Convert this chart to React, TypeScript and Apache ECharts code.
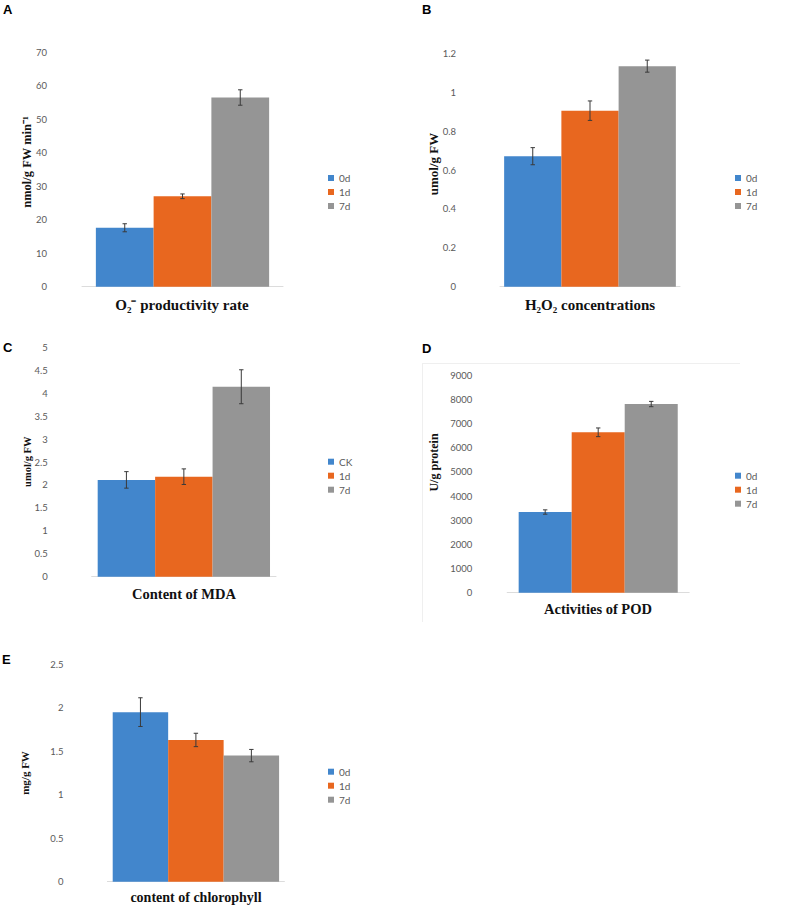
import React, { useEffect, useRef } from "react";
import * as echarts from "echarts";

// ---- data ----
const seriesNames = ["0d", "1d", "7d"];
const seriesNamesMDA = ["CK", "1d", "7d"];
const category = ["treatment"];

const o2Values = [17.6, 27.0, 56.5];
const o2Err = [1.2, 0.7, 2.3];
const h2o2Values = [0.671, 0.905, 1.134];
const h2o2Err = [0.044, 0.05, 0.031];
const mdaValues = [2.11, 2.18, 4.14];
const mdaErr = [0.18, 0.17, 0.37];
const podValues = [3340, 6640, 7810];
const podErr = [90, 180, 110];
const chlValues = [1.95, 1.63, 1.45];
const chlErr = [0.165, 0.077, 0.071];

const panelLetters = ["A", "B", "C", "D", "E"];
const yTitles = ["nmol/g FW min\u207B\u00B9", "umol/g FW", "umol/g FW", "U/g protein", "mg/g FW"];
const xTitles = ["O\u2082\u207B productivity rate", "H\u2082O\u2082 concentrations", "Content of MDA", "Activities of POD", "content of chlorophyll"];
const yMax = [70, 1.2, 5, 9000, 2.5];
const yStep = [10, 0.2, 0.5, 1000, 0.5];

const colors = ["#4286cc", "#e8671f", "#959595"];

// ---- layout ----
const panels = [
  { values: o2Values, err: o2Err, names: seriesNames, grid: { left: 82, top: 52.3, width: 201, height: 234.4 }, gap: 0.138, labelMargin: 35,
    legend: { left: 328, top: 172 }, letter: [3, 9.5], yTitle: [27, 162, 12.5], xTitle: [182, 305, 15] },
  { values: h2o2Values, err: h2o2Err, names: seriesNames, grid: { left: 500, top: 53.3, width: 180, height: 233.4 }, gap: 0.046, labelMargin: 44,
    legend: { left: 735, top: 172 }, letter: [422, 9.5], yTitle: [433.5, 164, 13], xTitle: [590, 305, 15] },
  { values: mdaValues, err: mdaErr, names: seriesNamesMDA, grid: { left: 91.7, top: 347.3, width: 184.3, height: 229.4 }, gap: 0.065, labelMargin: 44,
    legend: { left: 328, top: 455.7 }, letter: [3, 347.5], yTitle: [27, 461.7, 10.5], xTitle: [184, 594, 14.5] },
  { values: podValues, err: podErr, names: seriesNames, grid: { left: 507.2, top: 375.3, width: 182, height: 217.4 }, gap: 0.126, labelMargin: 35,
    legend: { left: 735, top: 469.7 }, letter: [422, 348], yTitle: [433.5, 462.5, 12], xTitle: [598, 609, 14.5] },
  { values: chlValues, err: chlErr, names: seriesNames, grid: { left: 107.4, top: 664.3, width: 177, height: 217.4 }, gap: 0.06, labelMargin: 44,
    legend: { left: 328, top: 765.7 }, letter: [2, 659], yTitle: [25, 773, 11], xTitle: [196, 897.5, 14] },
];

export default function App() {
  const ref = useRef<HTMLDivElement>(null);
  useEffect(() => {
    document.body.style.margin = "0";
    if (!ref.current) return;
    const chart = echarts.init(ref.current, undefined, { renderer: "svg" });

    const grids: any[] = [];
    const xAxes: any[] = [];
    const yAxes: any[] = [];
    const legends: any[] = [];
    const series: any[] = [];
    const graphics: any[] = [];

    panels.forEach((p, i) => {
      grids.push({ ...p.grid, containLabel: false });
      xAxes.push({
        type: "category", gridIndex: i, data: category,
        axisLine: { show: true, lineStyle: { color: "#dcdcdc", width: 1 } },
        axisTick: { show: false }, axisLabel: { show: false }, splitLine: { show: false },
      });
      yAxes.push({
        type: "value", gridIndex: i, min: 0, max: yMax[i], interval: yStep[i],
        axisLine: { show: false }, axisTick: { show: false }, splitLine: { show: false },
        axisLabel: {
          color: "#5a5a5a", fontSize: 9.5, fontFamily: "Lato", margin: p.labelMargin,
          formatter: (v: number) => String(parseFloat(v.toFixed(4))),
        },
      });
      legends.push({
        orient: "vertical", left: p.legend.left, top: p.legend.top, padding: 0,
        itemWidth: 6, itemHeight: 6, itemGap: 2, icon: "rect",
        data: p.names,
        textStyle: { color: "#5a5a5a", fontSize: 10, fontFamily: "Lato", lineHeight: 12 },
        selectedMode: false,
      });
      p.values.forEach((v, j) => {
        series.push({
          type: "bar", name: p.names[j], xAxisIndex: i, yAxisIndex: i,
          data: [v], barGap: "0%", barCategoryGap: (p.gap * 100).toFixed(1) + "%",
          itemStyle: { color: colors[j] }, silent: true,
        });
      });
      const gapFrac = p.gap;
      series.push({
        type: "custom", xAxisIndex: i, yAxisIndex: i, silent: true, z: 10,
        encode: { x: 0, y: 1 },
        data: p.values.map((v, j) => [0, v, p.err[j], j]),
        renderItem: (params: any, api: any) => {
          const val = api.value(1);
          const e = api.value(2);
          const idx = api.value(3);
          const center = api.coord([0, val]);
          const band = api.size([1, 0])[0];
          const barW = (band * (1 - gapFrac)) / 3;
          const x = center[0] + (idx - 1) * barW;
          const top = api.coord([0, val + e])[1];
          const bot = api.coord([0, val - e])[1];
          const st = { stroke: "#3a3a3a", lineWidth: 1 };
          return {
            type: "group",
            children: [
              { type: "line", shape: { x1: x, y1: top, x2: x, y2: bot }, style: st },
              { type: "line", shape: { x1: x - 2.2, y1: top, x2: x + 2.2, y2: top }, style: st },
              { type: "line", shape: { x1: x - 2.2, y1: bot, x2: x + 2.2, y2: bot }, style: st },
            ],
          };
        },
      });

      graphics.push({
        type: "text", x: p.letter[0], y: p.letter[1],
        style: { text: panelLetters[i], font: 'bold 13px "Liberation Sans"', fill: "#000", align: "left", verticalAlign: "middle" },
      });
      graphics.push({
        type: "text", x: p.yTitle[0], y: p.yTitle[1], rotation: Math.PI / 2,
        style: { text: yTitles[i], font: `bold ${p.yTitle[2]}px "Liberation Serif"`, fill: "#111", align: "center", verticalAlign: "middle" },
      });
      graphics.push({
        type: "text", x: p.xTitle[0], y: p.xTitle[1],
        style: { text: xTitles[i], font: `bold ${p.xTitle[2]}px "Liberation Serif"`, fill: "#111", align: "center", verticalAlign: "middle" },
      });
    });

    // faint frame around panel D
    graphics.push({ type: "line", shape: { x1: 422, y1: 363.5, x2: 740, y2: 363.5 }, style: { stroke: "#efefef", lineWidth: 1 } });
    graphics.push({ type: "line", shape: { x1: 422.5, y1: 363.5, x2: 422.5, y2: 622 }, style: { stroke: "#efefef", lineWidth: 1 } });

    chart.setOption({
      animation: false,
      backgroundColor: "#ffffff",
      grid: grids,
      xAxis: xAxes,
      yAxis: yAxes,
      legend: legends,
      series,
      graphic: graphics,
    });
    return () => chart.dispose();
  }, []);
  return <div ref={ref} style={{ width: 787, height: 910 }} />;
}
